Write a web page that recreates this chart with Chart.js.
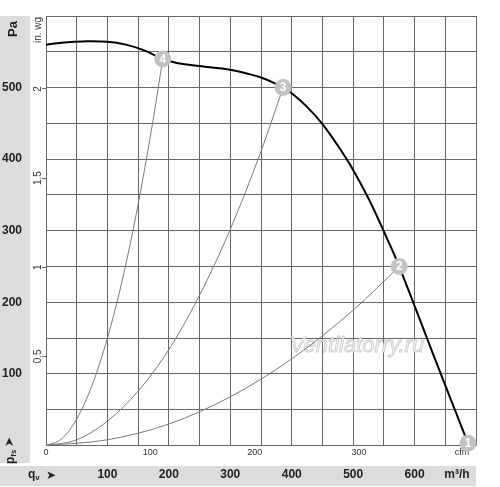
<!DOCTYPE html>
<html>
<head>
<meta charset="utf-8">
<script src="https://cdn.jsdelivr.net/npm/chart.js@4/dist/chart.umd.min.js"></script>
<style>
  html, body { margin: 0; padding: 0; background: #fff; }
  canvas { display: block; }
</style>
</head>
<body>
<canvas id="fanChart" width="500" height="487"></canvas>
<script>
// fan curve (m³/h -> Pa)
const fanFlow     = [0, 30, 60, 100, 130, 160, 190, 215, 250, 300, 330, 350, 370, 386, 400, 425, 450, 475, 500, 525, 550, 575, 630, 687];
const fanPressure = [560, 563, 564.5, 564, 560, 552, 540, 534, 530, 525, 519, 514, 507, 500, 492, 473, 449, 419, 385, 345, 299, 250, 128, 3];

// system curves through the operating points
const sys2Flow     = [0, 100, 200, 300, 400, 500, 575];
const sys2Pressure = [0, 8, 30, 68, 121, 189, 250];
const sys3Flow     = [0, 50, 100, 150, 200, 250, 300, 350, 386];
const sys3Pressure = [0, 8, 34, 76, 134, 210, 302, 411, 500];
const sys4Flow     = [0, 25, 50, 75, 100, 125, 150, 175, 190];
const sys4Pressure = [0, 9, 37, 84, 150, 234, 337, 458, 540];

// numbered operating points
const markerFlow     = [687, 575, 386, 190];
const markerPressure = [3, 250, 500, 540];
const markerLabels   = ['1', '2', '3', '4'];

// tick labels
const flowTicks     = [100, 200, 300, 400, 500, 600];
const pressureTicks = [100, 200, 300, 400, 500];
const cfmTicks      = [0, 100, 200, 300];
const inwgTicks     = [0.5, 1, 1.5, 2];

const FLOW_MAX = 700;
const PRESSURE_MAX = 600;
const M3H_PER_CFM = 1.699;
const PA_PER_INWG = 249.09;

const FONT = '"Liberation Sans", Arial, sans-serif';
const GRID = '#666';
const BAND = '#dcdcdc';

function toPoints(xs, ys) {
    return xs.map((x, i) => ({ x: x, y: ys[i] }));
}

function systemCurve(xs, ys) {
    return {
        data: toPoints(xs, ys),
        borderColor: '#7a7a7a',
        borderWidth: 1,
        pointRadius: 0,
        cubicInterpolationMode: 'monotone',
        fill: false
    };
}

function rotatedText(ctx, text, x, y, font, color) {
    ctx.save();
    ctx.translate(x, y);
    ctx.rotate(-Math.PI / 2);
    ctx.font = font;
    ctx.fillStyle = color;
    ctx.textAlign = 'center';
    ctx.textBaseline = 'middle';
    ctx.fillText(text, 0, 0);
    ctx.restore();
}

// grey bands, axis titles and the rotated in. wg labels
const decorations = {
    id: 'decorations',
    beforeDraw(chart) {
        const ctx = chart.ctx;
        ctx.save();
        ctx.fillStyle = '#fff';
        ctx.fillRect(0, 0, chart.width, chart.height);
        ctx.fillStyle = BAND;
        ctx.fillRect(0, 16, 30, 447);
        ctx.fillRect(0, 466, 476, 20);

        rotatedText(ctx, 'Pa', 13, 29, 'bold 13px ' + FONT, '#222');
        rotatedText(ctx, 'in. wg', 38, 30, '10px ' + FONT, '#333');

        const y2 = chart.scales.y2;
        inwgTicks.forEach(v => {
            rotatedText(ctx, String(v), 38, y2.getPixelForValue(v), '10px ' + FONT, '#333');
        });

        // pfs ➤ (rotated)
        ctx.save();
        ctx.translate(14, 464);
        ctx.rotate(-Math.PI / 2);
        ctx.fillStyle = '#222';
        ctx.textAlign = 'left';
        ctx.textBaseline = 'alphabetic';
        ctx.font = 'bold 12px ' + FONT;
        ctx.fillText('p', 0, 0);
        let w = ctx.measureText('p').width;
        ctx.font = 'bold 8px ' + FONT;
        ctx.fillText('fs', w, 2);
        ctx.font = 'bold 12px "DejaVu Sans"';
        ctx.fillText('\u27A4', 17, -1);
        ctx.restore();

        // qv ➤
        ctx.fillStyle = '#222';
        ctx.textAlign = 'left';
        ctx.textBaseline = 'alphabetic';
        ctx.font = 'bold 12px ' + FONT;
        ctx.fillText('q', 28, 478);
        w = ctx.measureText('q').width;
        ctx.font = 'bold 8px ' + FONT;
        ctx.fillText('v', 28 + w, 480);
        ctx.font = 'bold 12px "DejaVu Sans"';
        ctx.fillText('\u27A4', 46, 479);

        ctx.font = 'bold 12px ' + FONT;
        ctx.textAlign = 'center';
        ctx.textBaseline = 'middle';
        ctx.fillText('m\u00B3/h', 457, 475);
        ctx.restore();
    },
    beforeDatasetsDraw(chart) {
        const ctx = chart.ctx;
        ctx.save();
        ctx.font = '9px ' + FONT;
        ctx.fillStyle = '#333';
        ctx.textAlign = 'center';
        ctx.textBaseline = 'middle';
        ctx.fillText('cfm', 462, 453);

        // watermark
        ctx.font = 'italic 22px ' + FONT;
        ctx.fillStyle = '#fafafa';
        ctx.strokeStyle = '#cfcfcf';
        ctx.lineWidth = 1;
        ctx.fillText('Ventilatorry.ru', 357, 346);
        ctx.strokeText('Ventilatorry.ru', 357, 346);
        ctx.restore();
    },
    afterDatasetsDraw(chart) {
        const ctx = chart.ctx;
        const meta = chart.getDatasetMeta(0);
        ctx.save();
        ctx.font = 'bold 12px ' + FONT;
        ctx.fillStyle = '#fff';
        ctx.textAlign = 'center';
        ctx.textBaseline = 'middle';
        meta.data.forEach((pt, i) => {
            ctx.fillText(markerLabels[i], pt.x, pt.y + 0.5);
        });
        ctx.restore();
    }
};

new Chart(document.getElementById('fanChart'), {
    type: 'line',
    data: {
        datasets: [
            {
                data: toPoints(markerFlow, markerPressure),
                showLine: false,
                pointRadius: 8.5,
                pointBackgroundColor: '#c2c2c2',
                pointBorderWidth: 0,
                clip: false
            },
            {
                data: toPoints(fanFlow, fanPressure),
                borderColor: '#000',
                borderWidth: 2,
                pointRadius: 0,
                tension: 0.4,
                fill: false
            },
            systemCurve(sys2Flow, sys2Pressure),
            systemCurve(sys3Flow, sys3Pressure),
            systemCurve(sys4Flow, sys4Pressure)
        ]
    },
    options: {
        responsive: false,
        animation: false,
        devicePixelRatio: 1,
        layout: { padding: { top: 16, right: 24, left: 0, bottom: 0 } },
        plugins: { legend: { display: false }, tooltip: { enabled: false } },
        scales: {
            x: {
                type: 'linear',
                position: 'bottom',
                weight: 1,
                min: 0,
                max: FLOW_MAX,
                grid: { color: GRID, lineWidth: 1, drawTicks: false },
                border: { display: false },
                ticks: {
                    stepSize: 50,
                    autoSkip: false,
                    maxRotation: 0,
                    padding: 10,
                    color: '#222',
                    font: { family: FONT, size: 12, weight: 'bold' },
                    callback: v => flowTicks.includes(v) ? String(v) : ''
                },
                afterFit(scale) { scale.height = 29.5; }
            },
            x2: {
                type: 'linear',
                position: 'bottom',
                weight: 0,
                min: 0,
                max: FLOW_MAX / M3H_PER_CFM,
                grid: { display: false, drawTicks: false },
                border: { display: false },
                afterBuildTicks(scale) { scale.ticks = cfmTicks.map(v => ({ value: v })); },
                ticks: {
                    autoSkip: false,
                    maxRotation: 0,
                    padding: 2,
                    color: '#333',
                    font: { family: FONT, size: 9 }
                },
                afterFit(scale) { scale.height = 12; }
            },
            y: {
                type: 'linear',
                position: 'left',
                weight: 1,
                min: 0,
                max: PRESSURE_MAX,
                grid: { color: GRID, lineWidth: 1, drawTicks: false },
                border: { display: false },
                ticks: {
                    stepSize: 50,
                    autoSkip: false,
                    padding: 8,
                    color: '#222',
                    font: { family: FONT, size: 12, weight: 'bold' },
                    callback: v => pressureTicks.includes(v) ? String(v) : ''
                },
                afterFit(scale) { scale.width = 30; }
            },
            y2: {
                type: 'linear',
                position: 'left',
                weight: 0,
                min: 0,
                max: PRESSURE_MAX / PA_PER_INWG,
                grid: { drawOnChartArea: false, drawTicks: true, tickLength: 4, color: GRID },
                border: { display: false },
                afterBuildTicks(scale) { scale.ticks = inwgTicks.map(v => ({ value: v })); },
                ticks: { display: false },
                afterFit(scale) { scale.width = 16; }
            }
        }
    },
    plugins: [decorations]
});
</script>
</body>
</html>
